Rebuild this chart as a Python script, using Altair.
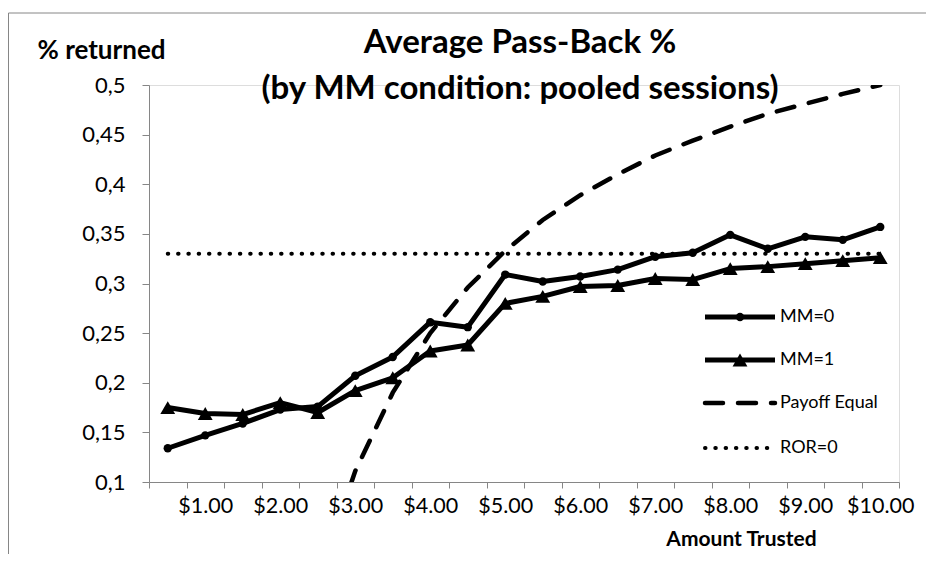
import altair as alt
import pandas as pd

amounts = ["$0.50", "$1.00", "$1.50", "$2.00", "$2.50", "$3.00", "$3.50", "$4.00", "$4.50", "$5.00",
           "$5.50", "$6.00", "$6.50", "$7.00", "$7.50", "$8.00", "$8.50", "$9.00", "$9.50", "$10.00"]
mm0 = [0.134, 0.147, 0.159, 0.173, 0.176, 0.207, 0.226, 0.261, 0.256, 0.309,
       0.302, 0.307, 0.314, 0.327, 0.331, 0.349, 0.335, 0.347, 0.344, 0.357]
mm1 = [0.175, 0.169, 0.168, 0.180, 0.170, 0.192, 0.205, 0.232, 0.238, 0.280,
       0.287, 0.297, 0.298, 0.305, 0.304, 0.315, 0.317, 0.320, 0.323, 0.326]
payoff = [None, None, None, None, 0.0, 0.111, 0.190, 0.250, 0.296, 0.333,
          0.364, 0.389, 0.410, 0.429, 0.444, 0.458, 0.471, 0.481, 0.491, 0.500]
ror = [0.33] * 20
y_ticks = [0.1, 0.15, 0.2, 0.25, 0.3, 0.35, 0.4, 0.45, 0.5]
series_names = ["MM=0", "MM=1", "Payoff Equal", "ROR=0"]
title_lines = ["Average Pass-Back %", "(by MM condition: pooled sessions)"]

rows = []
for name, vals in zip(series_names, [mm0, mm1, payoff, ror]):
    for a, v in zip(amounts, vals):
        if v is not None:
            rows.append({"amount": a, "value": v, "series": name})
df = pd.DataFrame(rows)

FONT = "Lato"
GRAY = "#868686"
W, H = 750, 397

x_enc = alt.X(
    "amount:N", sort=amounts, bandPosition=0.5,
    scale=alt.Scale(type="band", paddingInner=0, paddingOuter=0),
    axis=alt.Axis(
        title="Amount Trusted", tickBand="extent", labelAngle=0, labelOverlap=False,
        labelExpr="indexof(datum.label, '.00') > 0 ? datum.label : ''",
        domainColor=GRAY, tickColor=GRAY, tickSize=6, labelPadding=7,
        labelFont=FONT, labelFontSize=21.5, labelColor="black",
        titleFont=FONT, titleFontSize=21, titleFontWeight="bold", titleColor="black",
        titleX=592, titleY=63, titleBaseline="alphabetic", titleAlign="center",
    ),
)
y_enc = alt.Y(
    "value:Q",
    scale=alt.Scale(domain=[0.1, 0.5], nice=False, zero=False),
    axis=alt.Axis(
        values=y_ticks, grid=False,
        labelExpr="replace(format(datum.value, '.2~f'), '.', ',')",
        domainColor=GRAY, tickColor=GRAY, tickSize=7, labelPadding=17,
        labelFont=FONT, labelFontSize=22, labelColor="black",
        title="% returned", titleAngle=0, titleX=-112, titleY=-27,
        titleAlign="left", titleBaseline="alphabetic",
        titleFont=FONT, titleFontSize=26, titleFontWeight="bold", titleColor="black",
    ),
)

base = alt.Chart(df).encode(x=x_enc, y=y_enc)

ror_line = base.transform_filter("datum.series == 'ROR=0'").mark_line(
    color="black", strokeWidth=4, strokeDash=[0.5, 9.8], strokeCap="round", clip=True)
pay_line = base.transform_filter("datum.series == 'Payoff Equal'").mark_line(
    color="black", strokeWidth=4.5, strokeDash=[18, 15], strokeCap="round", clip=True)
mm0_line = base.transform_filter("datum.series == 'MM=0'").mark_line(
    color="black", strokeWidth=5, strokeJoin="round")
mm0_pts = base.transform_filter("datum.series == 'MM=0'").mark_point(
    shape="circle", filled=True, color="black", size=70, opacity=1)
mm1_line = base.transform_filter("datum.series == 'MM=1'").mark_line(
    color="black", strokeWidth=5, strokeJoin="round")
mm1_pts = base.transform_filter("datum.series == 'MM=1'").mark_point(
    shape="triangle-up", filled=True, color="black", size=220, opacity=1)

# chart title (two lines)
tdf = pd.DataFrame({"line": title_lines})
title_layers = []
for i, yy in enumerate([-32, 14]):
    title_layers.append(
        alt.Chart(tdf).transform_filter(f"datum.line == {title_lines[i]!r}").mark_text(
            align="center", baseline="alphabetic", font=FONT, fontSize=33,
            fontWeight="bold", color="black", clip=False).encode(
            x=alt.value(371), y=alt.value(yy), text="line:N"))

# manual legend
leg_y = [232, 275, 318, 363]
leg_layers = []
styles = [
    dict(strokeWidth=5),
    dict(strokeWidth=5),
    dict(strokeWidth=4.5, strokeDash=[18, 15], strokeCap="round"),
    dict(strokeWidth=4, strokeDash=[0.5, 9.8], strokeCap="round"),
]
markers = [("circle", 70), ("triangle-up", 220), None, None]
for name, yy, st, mk in zip(series_names, leg_y, styles, markers):
    ldf = pd.DataFrame({"label": [name]})
    leg_layers.append(alt.Chart(ldf).mark_rule(color="black", **st).encode(
        x=alt.value(556), x2=alt.value(626), y=alt.value(yy)))
    if mk is not None:
        leg_layers.append(alt.Chart(ldf).mark_point(
            shape=mk[0], size=mk[1], filled=True, color="black", opacity=1).encode(
            x=alt.value(591), y=alt.value(yy)))
    leg_layers.append(alt.Chart(ldf).mark_text(
        align="left", baseline="middle", font=FONT, fontSize=18, color="black").encode(
        x=alt.value(631), y=alt.value(yy), text="label:N"))

# outer chart frame
fdf = pd.DataFrame({"k": [0]})
frame_top = alt.Chart(fdf).mark_rule(color=GRAY, strokeWidth=1, clip=False).encode(
    x=alt.value(-140.5), x2=alt.value(800), y=alt.value(-72))
frame_left = alt.Chart(fdf).mark_rule(color=GRAY, strokeWidth=1, clip=False).encode(
    x=alt.value(-140.5), y=alt.value(-72), y2=alt.value(500))

chart = alt.layer(
    frame_top, frame_left, ror_line, pay_line, mm0_line, mm0_pts, mm1_line, mm1_pts,
    *title_layers, *leg_layers
).properties(
    width=W, height=H,
    autosize=alt.AutoSizeParams(type="none"),
    padding={"left": 141, "top": 77, "right": 27, "bottom": 72},
).configure_view(stroke=None).configure(background="white")

chart.save("out.html", embed_options={"renderer": "svg", "actions": False})
